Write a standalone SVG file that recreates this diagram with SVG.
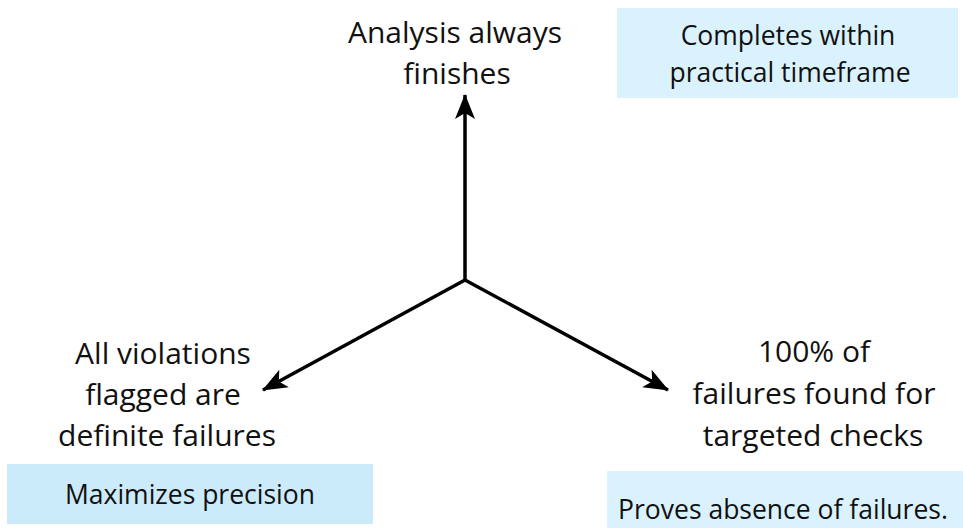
<svg xmlns="http://www.w3.org/2000/svg" width="963" height="528" viewBox="0 0 963 528">
<style>
  .lbl { font-family: "Open Sans", "Liberation Sans", sans-serif; font-size: 30px; fill: #111; text-anchor: middle; }
  .box { font-family: "Open Sans", "Liberation Sans", sans-serif; font-size: 26.5px; fill: #111; text-anchor: middle; }
  .conn { stroke: #000; stroke-width: 3.5; fill: none; }
</style>
<defs>
  <marker id="ah" markerUnits="userSpaceOnUse" markerWidth="26" markerHeight="22" viewBox="0 0 26 22" refX="24" refY="11" orient="auto">
    <path d="M0,1 L25,11 L0,21 L6,11 Z" fill="#000"/>
  </marker>
</defs>
<rect width="963" height="528" fill="#fff"/>
<g id="connectors">
  <line class="conn" x1="465" y1="281" x2="465" y2="95" marker-end="url(#ah)"/>
  <line class="conn" x1="465" y1="280" x2="263" y2="390" marker-end="url(#ah)"/>
  <line class="conn" x1="465" y1="280" x2="668" y2="390" marker-end="url(#ah)"/>
</g>
<g id="top">
  <text class="lbl" x="455" y="43">Analysis always</text>
  <text class="lbl" x="457" y="84">finishes</text>
</g>
<g id="top-note">
  <rect x="617" y="8" width="341" height="90" fill="#DAF2FD"/>
  <text class="box" x="788" y="45">Completes within</text>
  <text class="box" x="790" y="82">practical timeframe</text>
</g>
<g id="left">
  <text class="lbl" x="163" y="364">All violations</text>
  <text class="lbl" x="163" y="405">flagged are</text>
  <text class="lbl" x="167" y="446">definite failures</text>
</g>
<g id="left-note">
  <rect x="7" y="464" width="366" height="60" fill="#CCEBFA"/>
  <text class="box" x="190" y="504">Maximizes precision</text>
</g>
<g id="right">
  <text class="lbl" x="814" y="362">100% of</text>
  <text class="lbl" x="814" y="404">failures found for</text>
  <text class="lbl" x="813" y="446">targeted checks</text>
</g>
<g id="right-note">
  <rect x="607" y="471" width="356" height="57" fill="#D9F2FD"/>
  <text class="box" x="783" y="519">Proves absence of failures.</text>
</g>
</svg>
